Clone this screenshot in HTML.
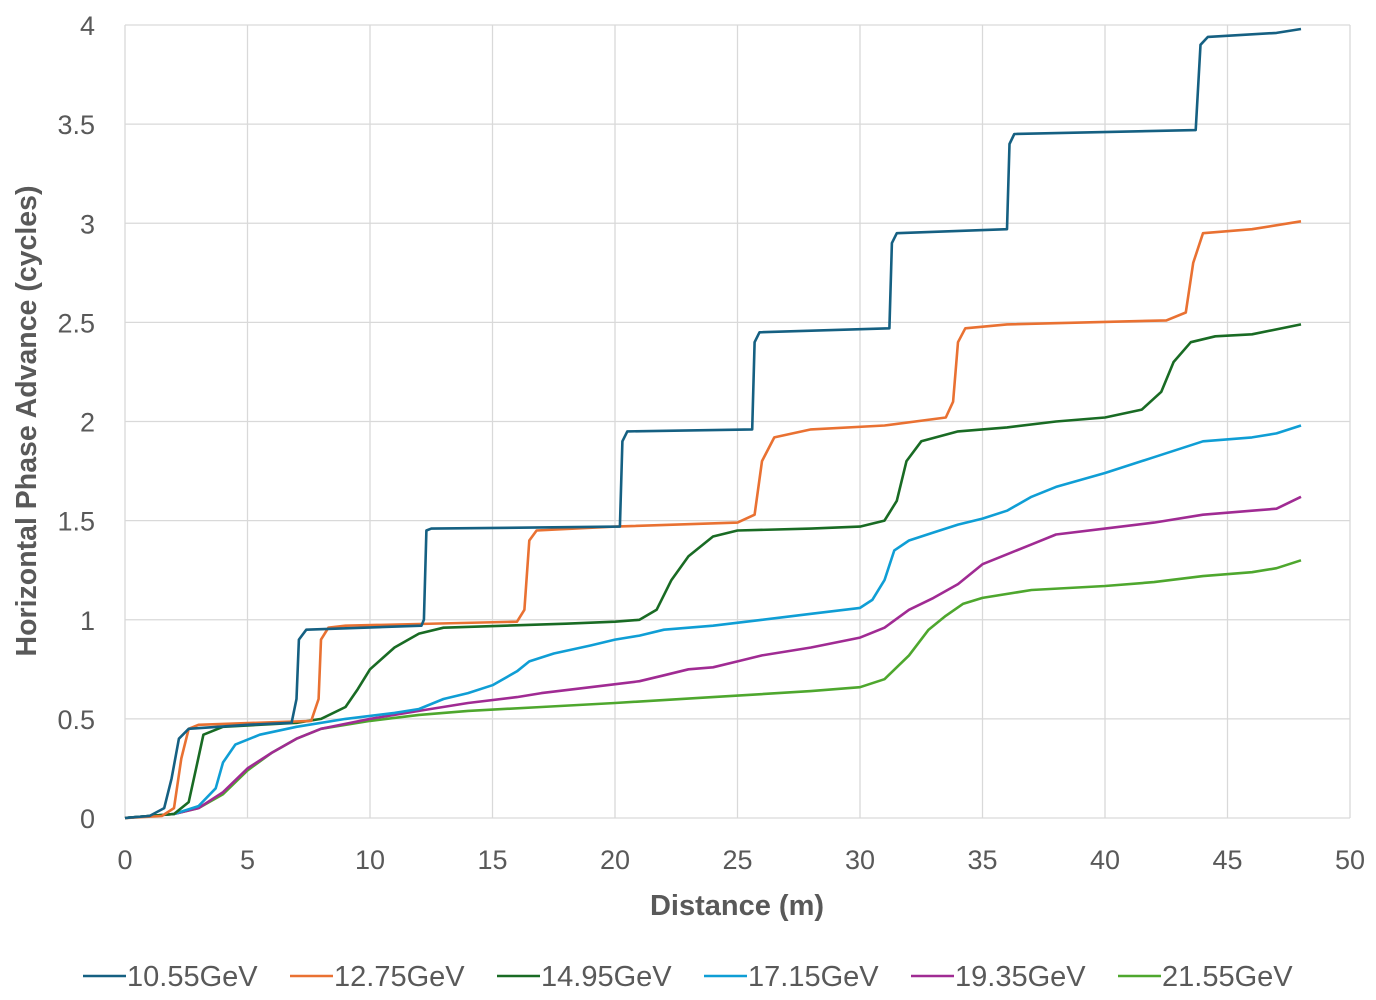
<!DOCTYPE html>
<html><head><meta charset="utf-8"><style>
html,body{margin:0;padding:0;background:#fff;}
svg{display:block;font-family:"Liberation Sans",Arial,sans-serif;}
</style></head><body>
<svg id="c" width="1376" height="1000" xmlns="http://www.w3.org/2000/svg">
<g id="grid" stroke="#d9d9d9" stroke-width="1.3"></g>
<g id="ticks" fill="#595959" font-size="27"></g>
<text x="737" y="915" text-anchor="middle" font-size="29" font-weight="bold" fill="#595959">Distance (m)</text>
<text transform="translate(36,421) rotate(-90)" text-anchor="middle" font-size="28.5" font-weight="bold" fill="#595959">Horizontal Phase Advance (cycles)</text>
<g id="series" fill="none" stroke-width="2.6" stroke-linejoin="round"></g>
<g id="legend" font-size="29" fill="#595959"></g>
</svg>
<script>
var X=function(v){return 125+v*24.5},Y=function(v){return 818-v*198.25};
var ns="http://www.w3.org/2000/svg";
function el(p,t,a,txt){var e=document.createElementNS(ns,t);for(var k in a)e.setAttribute(k,a[k]);if(txt!=null)e.textContent=txt;document.getElementById(p).appendChild(e);}
for(var i=0;i<=10;i++){var x=X(i*5);el("grid","line",{x1:x,x2:x,y1:25,y2:818});el("ticks","text",{x:x,y:869,"text-anchor":"middle"},String(i*5));}
for(var j=0;j<=8;j++){var y=Y(j*0.5);el("grid","line",{x1:125,x2:1350,y1:y,y2:y});el("ticks","text",{x:95,y:y+10,"text-anchor":"end"},String(j*0.5));}
var S=[
["#156082","10.55GeV",[[0,0],[1,0.01],[1.6,0.05],[1.9,0.2],[2.2,0.4],[2.6,0.45],[5,0.47],[6.8,0.48],[7.0,0.6],[7.1,0.9],[7.4,0.95],[12.1,0.97],[12.2,1.0],[12.3,1.45],[12.5,1.46],[20.2,1.47],[20.3,1.9],[20.5,1.95],[25.6,1.96],[25.7,2.4],[25.9,2.45],[31.2,2.47],[31.3,2.9],[31.5,2.95],[36.0,2.97],[36.1,3.4],[36.3,3.45],[43.7,3.47],[43.9,3.9],[44.2,3.94],[47,3.96],[48,3.98]]],
["#e97132","12.75GeV",[[0,0],[1.5,0.01],[2.0,0.05],[2.3,0.3],[2.6,0.45],[3,0.47],[7.6,0.49],[7.9,0.6],[8.0,0.9],[8.3,0.96],[9,0.97],[16,0.99],[16.3,1.05],[16.5,1.4],[16.8,1.45],[20,1.47],[25,1.49],[25.7,1.53],[26.0,1.8],[26.5,1.92],[28,1.96],[31,1.98],[33.5,2.02],[33.8,2.1],[34.0,2.4],[34.3,2.47],[36,2.49],[42.5,2.51],[43.3,2.55],[43.6,2.8],[44,2.95],[46,2.97],[48,3.01]]],
["#196b24","14.95GeV",[[0,0],[2,0.02],[2.6,0.08],[2.9,0.25],[3.2,0.42],[4,0.46],[7,0.48],[8,0.5],[9,0.56],[9.5,0.65],[10,0.75],[11,0.86],[12,0.93],[13,0.96],[18,0.98],[20,0.99],[21,1.0],[21.7,1.05],[22.3,1.2],[23,1.32],[24,1.42],[25,1.45],[28,1.46],[30,1.47],[31,1.5],[31.5,1.6],[31.9,1.8],[32.5,1.9],[34,1.95],[36,1.97],[38,2.0],[40,2.02],[41.5,2.06],[42.3,2.15],[42.8,2.3],[43.5,2.4],[44.5,2.43],[46,2.44],[48,2.49]]],
["#0f9ed5","17.15GeV",[[0,0],[2,0.02],[3,0.06],[3.7,0.15],[4,0.28],[4.5,0.37],[5.5,0.42],[7,0.46],[9,0.5],[11,0.53],[12,0.55],[13,0.6],[14,0.63],[15,0.67],[16,0.74],[16.5,0.79],[17.5,0.83],[19,0.87],[20,0.9],[21,0.92],[22,0.95],[24,0.97],[26,1.0],[28,1.03],[30,1.06],[30.5,1.1],[31,1.2],[31.4,1.35],[32,1.4],[33,1.44],[34,1.48],[35,1.51],[36,1.55],[37,1.62],[38,1.67],[40,1.74],[42,1.82],[44,1.9],[46,1.92],[47,1.94],[48,1.98]]],
["#a02b93","19.35GeV",[[0,0],[2,0.02],[3,0.05],[4,0.13],[5,0.25],[6,0.33],[7,0.4],[8,0.45],[10,0.5],[12,0.54],[14,0.58],[16,0.61],[17,0.63],[19,0.66],[21,0.69],[22,0.72],[23,0.75],[24,0.76],[25,0.79],[26,0.82],[28,0.86],[30,0.91],[31,0.96],[32,1.05],[33,1.11],[34,1.18],[35,1.28],[36,1.33],[37,1.38],[38,1.43],[40,1.46],[42,1.49],[44,1.53],[46,1.55],[47,1.56],[48,1.62]]],
["#4ea72e","21.55GeV",[[0,0],[2,0.02],[3,0.05],[4,0.12],[5,0.24],[6,0.33],[7,0.4],[8,0.45],[10,0.49],[12,0.52],[14,0.54],[17,0.56],[20,0.58],[24,0.61],[28,0.64],[30,0.66],[31,0.7],[32,0.82],[32.8,0.95],[33.5,1.02],[34.2,1.08],[35,1.11],[37,1.15],[40,1.17],[42,1.19],[44,1.22],[46,1.24],[47,1.26],[48,1.3]]]];
var lx=[83,290,497,704,911,1118];
for(var s=S.length-1;s>=0;s--){el("series","polyline",{stroke:S[s][0],points:S[s][2].map(function(p){return X(p[0]).toFixed(1)+","+Y(p[1]).toFixed(1)}).join(" ")});}
S.forEach(function(s,i){el("legend","line",{x1:lx[i],x2:lx[i]+43,y1:976,y2:976,stroke:s[0],"stroke-width":2.6});el("legend","text",{x:lx[i]+44,y:986},s[1]);});
</script>
</body></html>
